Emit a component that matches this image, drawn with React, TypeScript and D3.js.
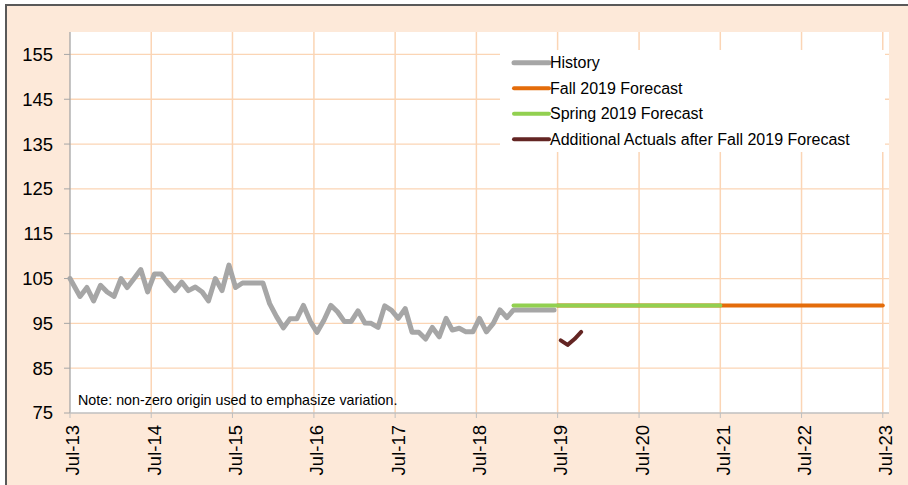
import React from 'react';
import * as d3 from 'd3';

// monthly history index, starting Jul-2013 (points sit mid-month, first one on the axis)
const historyStart = new Date(2013, 6, 1);
const historyValues = [
  105, 101, 103, 100, 103.5, 102, 101, 105, 103, 105, 107, 102,
  106, 106, 104, 102.3, 104.2, 102.3, 103.1, 102, 100, 105, 102.3, 108,
  103, 104, 104, 104, 104, 99.4, 96.5, 94, 96, 96, 99, 95.4,
  93, 95.7, 99, 97.6, 95.4, 95.4, 97.8, 95.1, 95, 94.1, 98.9, 97.9,
  96.1, 98.3, 93, 93, 91.5, 94.1, 92, 96.1, 93.5, 93.9, 93.1, 93.1,
  96.1, 93.1, 95, 98, 96.3, 98, 98, 98, 98, 98, 98, 98,
];

const fallForecast = [
  { date: new Date(2019, 6, 1), value: 99 },
  { date: new Date(2023, 6, 1), value: 99 },
];
const springForecast = [
  { date: new Date(2018, 11, 15), value: 99 },
  { date: new Date(2021, 6, 1), value: 99 },
];
const actualsStart = new Date(2019, 6, 1);
const actualsValues = [91.2, 90.2, 91.5, 93.1];

const tickYears = [2013, 2014, 2015, 2016, 2017, 2018, 2019, 2020, 2021, 2022, 2023];
const yTicks = [75, 85, 95, 105, 115, 125, 135, 145, 155];

const legendItems = [
  { label: 'History', color: '#A6A6A6', width: 5 },
  { label: 'Fall 2019 Forecast', color: '#E46C0A', width: 4 },
  { label: 'Spring 2019 Forecast', color: '#92D050', width: 4 },
  { label: 'Additional Actuals after Fall 2019 Forecast', color: '#632523', width: 4 },
];

const W = 908;
const H = 485;
const plot = { left: 70, right: 889, top: 32, bottom: 413 };
const FONT = '"Liberation Sans", Arial, sans-serif';
const GRID = '#FBD5B5';

const monthly = (start: Date, values: number[], firstOnStart = false) =>
  values.map((v, i) => ({
    date: i === 0 && firstOnStart ? start : d3.timeDay.offset(d3.timeMonth.offset(start, i), 14),
    value: v,
  }));

export default function App() {
  const x = d3.scaleTime()
    .domain([new Date(2013, 6, 1), new Date(2023, 6, 29)])
    .range([plot.left, plot.right]);
  const y = d3.scaleLinear().domain([75, 160]).range([plot.bottom, plot.top]);

  const line = d3.line<{ date: Date; value: number }>()
    .x((d) => x(d.date))
    .y((d) => y(d.value));

  const history = monthly(historyStart, historyValues, true);
  const actuals = monthly(actualsStart, actualsValues);
  const xTicks = tickYears.map((yr) => new Date(yr, 6, 1));
  const fmt = d3.timeFormat('%b-%y');

  return (
    <svg width={W} height={H} style={{ position: 'absolute', left: 0, top: 0 }} fontFamily={FONT}>
      <rect x={0} y={0} width={W} height={H} fill="#fff" />
      <rect x={6} y={5} width={W + 10} height={H + 10} fill="#FDE9D9" stroke="#595959" strokeWidth={2} />
      <rect x={plot.left} y={plot.top} width={plot.right - plot.left} height={plot.bottom - plot.top} fill="#fff" />

      {/* grid */}
      {yTicks.slice(1).map((t) => (
        <line key={'gy' + t} x1={plot.left} x2={plot.right} y1={y(t)} y2={y(t)} stroke={GRID} strokeWidth={1.3} />
      ))}
      {xTicks.slice(1).map((d) => (
        <line key={'gx' + d.getFullYear()} x1={x(d)} x2={x(d)} y1={plot.top} y2={plot.bottom} stroke={GRID} strokeWidth={1.5} />
      ))}

      {/* legend box */}
      <rect x={500} y={50} width={385} height={102} fill="#fff" />
      {legendItems.map((it, i) => (
        <g key={it.label} transform={`translate(514, ${62.7 + i * 25.5})`}>
          <line x1={0} x2={35} stroke={it.color} strokeWidth={it.width} strokeLinecap="round" />
          <text x={36} dy="0.35em" fontSize={16} fill="#000">{it.label}</text>
        </g>
      ))}

      {/* axes */}
      <line x1={plot.left} x2={plot.left} y1={plot.top} y2={plot.bottom} stroke="#A6A6A6" strokeWidth={1.3} />
      <line x1={plot.left} x2={plot.right} y1={plot.bottom} y2={plot.bottom} stroke="#BFBFBF" strokeWidth={1.3} />
      {yTicks.map((t) => (
        <g key={'ty' + t}>
          <line x1={plot.left - 6} x2={plot.left} y1={y(t)} y2={y(t)} stroke="#A6A6A6" />
          <text x={53} y={y(t)} dy="0.35em" textAnchor="end" fontSize={18.5} fill="#000">{t}</text>
        </g>
      ))}
      {xTicks.map((d) => (
        <g key={'tx' + d.getFullYear()}>
          <line x1={x(d)} x2={x(d)} y1={plot.bottom} y2={plot.bottom + 5} stroke="#BFBFBF" />
          <text
            transform={`translate(${x(d) + 3}, 425) rotate(-90)`}
            dy="0.35em"
            textAnchor="end"
            fontSize={18.5}
            fill="#000"
          >
            {fmt(d)}
          </text>
        </g>
      ))}

      {/* series */}
      <path d={line(history) || ''} fill="none" stroke="#A6A6A6" strokeWidth={5} strokeLinejoin="round" strokeLinecap="round" />
      <path d={line(fallForecast) || ''} fill="none" stroke="#E46C0A" strokeWidth={4} strokeLinecap="round" />
      <path d={line(springForecast) || ''} fill="none" stroke="#92D050" strokeWidth={4} strokeLinecap="round" />
      <path d={line(actuals) || ''} fill="none" stroke="#632523" strokeWidth={4} strokeLinejoin="round" strokeLinecap="round" />

      <text x={78} y={405} fontSize={14.3} fill="#000">Note: non-zero origin used to emphasize variation.</text>
    </svg>
  );
}
